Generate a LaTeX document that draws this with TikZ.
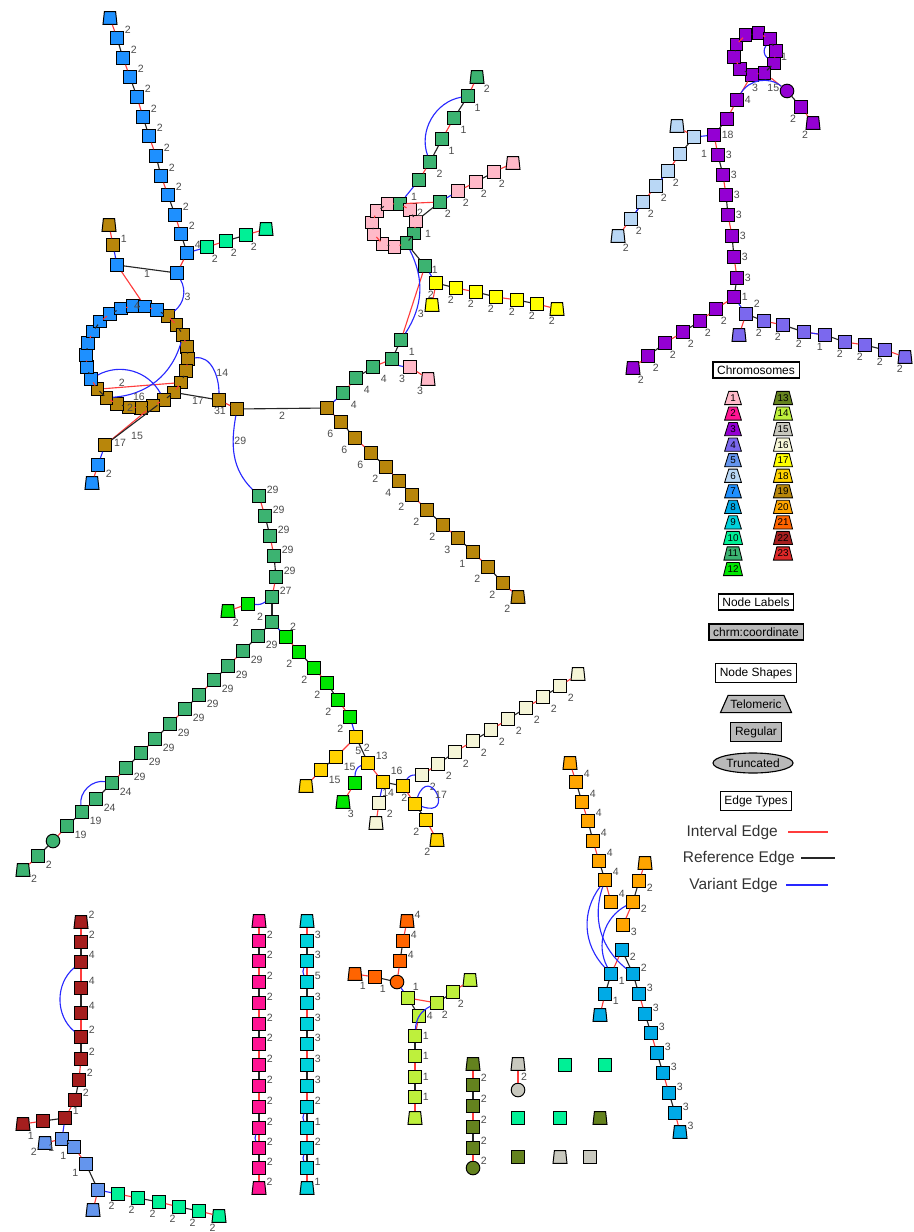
\documentclass[tikz,border=0pt]{standalone}
\usepackage{fontspec}
\setmainfont{Liberation Sans}
\setsansfont{Liberation Sans}
\usetikzlibrary{shapes.geometric, positioning}

% chromosome colours
\definecolor{c1}{RGB}{255,185,200}
\definecolor{c2}{RGB}{255,20,147}
\definecolor{c3}{RGB}{148,0,211}
\definecolor{c4}{RGB}{123,104,238}
\definecolor{c5}{RGB}{100,149,237}
\definecolor{c6}{RGB}{185,215,245}
\definecolor{c7}{RGB}{30,144,255}
\definecolor{c8}{RGB}{0,170,230}
\definecolor{c9}{RGB}{0,210,220}
\definecolor{c10}{RGB}{0,240,150}
\definecolor{c11}{RGB}{60,179,113}
\definecolor{c12}{RGB}{0,230,0}
\definecolor{c13}{RGB}{100,130,30}
\definecolor{c14}{RGB}{190,240,60}
\definecolor{c15}{RGB}{200,200,190}
\definecolor{c16}{RGB}{245,245,215}
\definecolor{c17}{RGB}{255,255,0}
\definecolor{c18}{RGB}{255,210,0}
\definecolor{c19}{RGB}{184,134,11}
\definecolor{c20}{RGB}{255,165,0}
\definecolor{c21}{RGB}{255,100,0}
\definecolor{c22}{RGB}{165,30,30}
\definecolor{c23}{RGB}{220,40,40}
\definecolor{edgered}{RGB}{255,60,60}
\definecolor{edgeblue}{RGB}{40,40,255}

% a chain of segments: name, colour, label angle, x/y/shape/label
\newcommand{\chrchain}[4]{%
  \foreach [count=\i] \px/\py/\sh/\tx in {#4} {
    \node[\sh, fill=#2, label={[lbl]#3:\tx}] (#1-\i) at (\px,\py) {};
    \ifnum\i>1\relax
      \pgfmathtruncatemacro{\j}{\i-1}
      \ifodd\i\relax \draw[refe] (#1-\j) -- (#1-\i); \else \draw[ivl] (#1-\j) -- (#1-\i); \fi
    \fi
  }%
}

\begin{document}
\begin{tikzpicture}[x=0.25mm, y=-0.25mm,
    reg/.style={rectangle, draw=black, line width=0.7pt, minimum size=3.15mm, inner sep=0pt},
    telo/.style={trapezium, trapezium left angle=76, trapezium right angle=76, trapezium stretches=true, draw=black, line width=0.7pt, minimum width=3.5mm, minimum height=3.2mm, inner xsep=2pt, inner ysep=1pt},
    trunc/.style={circle, draw=black, line width=0.7pt, minimum size=3.4mm, inner sep=0pt},
    ivl/.style={draw=edgered, line width=0.8pt},
    refe/.style={draw=black!85, line width=0.8pt},
    var/.style={draw=edgeblue, line width=0.8pt},
    lbl/.style={font=\fontsize{7.5}{8}\selectfont, text=black!70, inner sep=0.5pt},
    legbox/.style={draw=black, line width=0.8pt, font=\fontsize{8.5}{9}\selectfont, inner xsep=3pt, inner ysep=2.6pt},
    legchr/.style={trapezium, trapezium left angle=68, trapezium right angle=68, trapezium stretches=true, draw=black, line width=0.6pt, minimum width=4.2mm, minimum height=3.3mm, inner sep=0.5pt, font=\fontsize{7}{7}\selectfont},
    legtxt/.style={font=\fontsize{11}{12}\selectfont, text=black!80, inner sep=0pt}
]
\useasboundingbox (0,0) rectangle (914,1232);

% ---- big component: chromosomes 7, 19, 11, 1, 17, 12, 18, 16 ----
\chrchain{sevA}{c7}{25}{110/18/telo/, 117/38/reg/2, 123/58/reg/2, 130/77/reg/2, 137/97/reg/2, 143/117/reg/2, 149/136/reg/2, 156/156/reg/2, 161/176/reg/2, 168/195/reg/2, 175/215/reg/2, 181/234/reg/2, 187/253/reg/4, 177/273/reg/}
\chrchain{tenA}{c10}{-60}{207/247/reg/2, 226/241/reg/2, 246/235/reg/2, 266/229/telo/}
\draw[var] (sevA-13) -- (tenA-1);
\chrchain{nineteenA}{c19}{10}{109/225/telo/, 113/245/reg/1}
\chrchain{sevB}{c7}{0}{117/265/reg/}
\draw[var] (nineteenA-2) -- (sevB-1);
\draw[refe] (sevB-1) -- node[lbl, below]{1} (sevA-14);

% ring of 7 and 19
\foreach \k in {0,...,25} {
  \pgfmathsetmacro{\ra}{53-13.846*\k}
  \ifnum\k<15\relax \def\rc{c19}\else \def\rc{c7}\fi
  \node[reg, fill=\rc] (ring-\k) at ({137+51*cos(\ra)},{357-51*sin(\ra)}) {};
}
\foreach \k in {0,...,25} {
  \pgfmathtruncatemacro{\kn}{mod(\k+1,26)}
  \ifodd\k\relax \draw[refe] (ring-\k) -- (ring-\kn); \else \draw[ivl] (ring-\k) -- (ring-\kn); \fi
}
\node[lbl] at (137,306) {4};
\draw[ivl] (sevB-1) -- (ring-24);
\draw[var] (sevA-14) to[bend left=40] node[lbl, right]{3} (ring-0);
\draw[ivl] (ring-14) -- node[lbl, pos=0.25, above]{2} (ring-6);
\draw[var] (ring-15) to[bend left=45] (ring-8);
\draw[var] (ring-2) to[bend left=35] (ring-13);
\node[lbl] at (139,397) {16};
\node[lbl] at (130,408) {2};

\node[reg, fill=c19] (hubA) at (219,400) {};
\node[reg, fill=c19] (hubB) at (237,409) {};
\node[reg, fill=c19] (hubC) at (327,408) {};
\draw[var] (ring-4) to[out=10, in=90] node[lbl, right, pos=0.6]{14} (hubA);
\draw[refe] (ring-7) -- node[lbl, below, pos=0.55]{17} (hubA);
\draw[ivl] (hubA) -- node[lbl, below left=1pt]{31} (hubB);
\draw[refe] (hubB) -- node[lbl, below=2pt]{2} (hubC);

\node[reg, fill=c19] (nineteenB) at (105,445) {};
\draw[ivl] (ring-9) -- (nineteenB);
\draw[refe] (ring-8) -- (nineteenB);
\node[lbl] at (120,443) {17};
\node[lbl] at (137,436) {15};
\chrchain{sevC}{c7}{-30}{98/465/reg/2, 92/483/telo/}
\draw[var] (nineteenB) -- (sevC-1);

% chromosome 19 arm to the lower right
\chrchain{nineteenC}{c19}{-135}{518/597/telo/2, 503/583/reg/2, 488/567/reg/2, 473/552/reg/1, 458/538/reg/3, 443/525/reg/2, 427/510/reg/2, 412/495/reg/2, 399/481/reg/4, 386/467/reg/2, 371/453/reg/6, 355/438/reg/6, 341/422/reg/6}
\draw[ivl] (hubC) -- (nineteenC-13);

% chromosome 11 and 1 up to the pink ring
\chrchain{elevenA}{c11}{-45}{343/393/reg/4, 356/378/reg/4, 373/367/reg/4, 392/359/reg/, 401/340/reg/1}
\draw[var] (hubC) -- (elevenA-1);
\chrchain{oneA}{c1}{-120}{428/379/telo/3, 410/367/reg/3}
\draw[var] (elevenA-4) to[bend right=20] (oneA-2);
\node[reg, fill=c11] (elevenB) at (425,266) {};
\draw[ivl] (elevenA-5) -- (elevenB);

\foreach \k/\rc in {0/c11, 1/c1, 2/c1, 3/c11, 4/c11, 5/c1, 6/c1, 7/c1, 8/c1, 9/c1, 10/c1} {
  \pgfmathsetmacro{\ra}{75-32.73*\k}
  \node[reg, fill=\rc] (pring-\k) at ({394+22*cos(\ra)},{225-22*sin(\ra)}) {};
}
\foreach \k in {0,...,10} {
  \pgfmathtruncatemacro{\kn}{mod(\k+1,11)}
  \ifodd\k\relax \draw[refe] (pring-\k) -- (pring-\kn); \else \draw[ivl] (pring-\k) -- (pring-\kn); \fi
}
\node[lbl] at (414,197) {1};
\node[lbl] at (420,213) {2};
\node[lbl] at (428,234) {1};
\draw[var] (elevenA-5) to[bend right=30] (pring-4);
\draw[refe] (elevenB) -- (pring-4);

\chrchain{elevenC}{c11}{-50}{477/77/telo/2, 468/96/reg/1, 454/118/reg/1, 442/139/reg/1, 430/162/reg/2, 419/180/reg/}
\draw[var] (elevenC-6) -- (pring-0);
\draw[var] (elevenC-5) to[bend left=50] (elevenC-2);
\chrchain{elevenD}{c11}{-60}{440/202/reg/2}
\draw[ivl] (pring-0) -- (elevenD-1);
\draw[refe] (elevenD-1) -- (pring-2);
\chrchain{oneB}{c1}{-60}{513/163/telo/, 494/172/reg/2, 476/182/reg/2, 458/191/reg/2}
\draw[var] (elevenD-1) -- (oneB-4);

% chromosome 17
\chrchain{seventeenA}{c17}{-100}{557/309/telo/2, 537/304/reg/2, 517/300/reg/2, 496/297/reg/2, 476/292/reg/2, 456/288/reg/2, 436/283/reg/2}
\draw[var] (elevenB) -- node[lbl, above right=0pt]{1} (seventeenA-7);
\chrchain{seventeenB}{c17}{-150}{432/305/telo/3}
\draw[ivl] (seventeenA-7) -- (seventeenB-1);

% chromosome 11 down to 12 and 18
\chrchain{elevenE}{c11}{10}{259/496/reg/29, 265/516/reg/29, 270/536/reg/29, 274/556/reg/29, 276/577/reg/29, 272/597/reg/27, 272/622/reg/}
\node[lbl] at (260,617) {2};
\draw[var] (hubB) to[out=-100, in=135] node[lbl, right, pos=0.3]{29} (elevenE-1);
\chrchain{twelveA}{c12}{-60}{228/611/telo/2, 248/604/reg/}
\draw[var] (elevenE-6) to[bend left=20] (twelveA-2);
\chrchain{twelveB}{c12}{-130}{286/637/reg/, 299/652/reg/2, 314/668/reg/2, 327/683/reg/2, 338/700/reg/2, 350/717/reg/2}
\node[lbl] at (293,627) {2};
\draw[var] (elevenE-7) -- (twelveB-1);
\chrchain{elevenF}{c11}{-30}{23/870/telo/2, 38/856/reg/2, 53/841/trunc/, 67/826/reg/19, 82/812/reg/19, 96/799/reg/24, 112/783/reg/24, 126/768/reg/29, 141/753/reg/29, 155/739/reg/29, 170/724/reg/29, 185/709/reg/29, 199/695/reg/29, 214/680/reg/29, 228/666/reg/29, 243/651/reg/29, 258/636/reg/29}
\draw[refe] (elevenF-17) -- (elevenE-7);
\draw[var] (elevenF-5) to[bend left=55] (elevenF-7);

\chrchain{eighteenA}{c18}{-40}{306/786/telo/, 321/770/reg/15, 336/757/reg/15, 356/737/reg/2}
\draw[var] (twelveB-6) -- (eighteenA-4);
\node[reg, fill=c18, label={[lbl]20:13}] (eighteenB) at (368,763) {};
\draw[refe] (eighteenA-4) -- node[lbl, left, pos=0.6]{5} (eighteenB);
\chrchain{twelveC}{c12}{-60}{343/802/telo/3, 355/783/reg/}
\draw[var] (eighteenB) to[out=200, in=90] (twelveC-2);
\node[reg, fill=c18, label={[lbl]45:16}] (eighteenC) at (383,782) {};
\draw[ivl] (eighteenB) -- (eighteenC);
\chrchain{sixteenA}{c16}{-40}{376/823/telo/, 379/803/reg/2}
\draw[var] (eighteenC) -- node[lbl, right]{14} (sixteenA-2);
\node[reg, fill=c18] (eighteenD) at (403,786) {};
\draw[refe] (eighteenC) -- (eighteenD);
\chrchain{sixteenB}{c16}{-45}{578/674/telo/, 560/686/reg/2, 543/697/reg/2, 526/708/reg/2, 508/719/reg/2, 491/730/reg/2, 473/741/reg/2, 455/752/reg/2, 438/764/reg/2, 422/775/reg/2}
\draw[var] (eighteenD) to[bend left=30] (sixteenB-10);
\node[reg, fill=c18, label={[lbl]170:2}] (eighteenE) at (415,804) {};
\draw[ivl] (eighteenD) -- (eighteenE);
\draw[var] (eighteenE) to[out=70, in=-20, looseness=9] (eighteenE);
\node[lbl] at (441,795) {17};
\chrchain{eighteenF}{c18}{-130}{437/840/telo/2, 426/820/reg/2}
\draw[refe] (eighteenE) -- (eighteenF-2);

% ---- chromosome 3, 6, 4 ----
\foreach \k in {0,...,9} {
  \pgfmathsetmacro{\ra}{153-36*\k}
  \node[reg, fill=c3] (threeR-\k) at ({755+21*cos(\ra)},{54-21*sin(\ra)}) {};
}
\foreach \k in {0,...,9} {
  \pgfmathtruncatemacro{\kn}{mod(\k+1,10)}
  \ifodd\k\relax \draw[refe] (threeR-\k) -- (threeR-\kn); \else \draw[ivl] (threeR-\k) -- (threeR-\kn); \fi
}
\node[lbl] at (784,57) {1};
\draw[var] (threeR-3) to[bend right=40] (threeR-5);
\chrchain{threeA}{c3}{0}{737/100/reg/4, 727/119/reg/, 714/135/reg/18, 718/155/reg/3, 723/175/reg/3, 726/195/reg/3, 728/215/reg/3, 732/236/reg/3, 734/257/reg/3, 737/278/reg/3, 734/297/reg/1}
\draw[ivl] (threeR-7) -- (threeA-1);
\chrchain{threeB}{c3}{-120}{813/123/telo/2, 801/107/reg/2, 787/91/trunc/}
\draw[ivl] (threeR-6) -- (threeB-3);
\draw[var] (threeA-1) to[bend left=50] node[lbl, below=1pt, pos=0.4]{3} node[lbl, below=1pt, pos=0.8]{15} (threeB-3);
\chrchain{sixA}{c6}{-60}{677/126/telo/, 694/137/reg/}
\draw[var] (sixA-2) -- (threeA-3);
\node[lbl] at (704,154) {1};
\chrchain{sixB}{c6}{-60}{618/236/telo/2, 631/219/reg/2, 643/202/reg/2, 656/186/reg/2, 668/171/reg/2, 680/154/reg/}
\draw[refe] (sixB-6) -- (sixA-2);
\draw[var] (sixB-2) -- (sixB-3);
\draw[var] (sixB-4) -- (sixB-5);
\chrchain{threeC}{c3}{-60}{633/368/telo/2, 648/356/reg/2, 665/343/reg/2, 683/332/reg/2, 700/321/reg/2, 716/309/reg/2}
\draw[ivl] (threeC-6) -- (threeA-11);
\chrchain{fourA}{c4}{40}{739/335/telo/, 746/314/reg/2}
\draw[var] (threeA-11) -- (fourA-2);
\chrchain{fourB}{c4}{-100}{905/357/telo/2, 885/350/reg/2, 865/345/reg/2, 845/342/reg/2, 825/335/reg/1, 804/332/reg/2, 783/325/reg/2, 764/321/reg/2}
\draw[refe] (fourB-8) -- (fourA-2);
\draw[var] (fourB-5) -- (fourB-6);

% ---- chromosome 20 and 8 ----
\chrchain{twentyA}{c20}{25}{570/763/telo/, 576/782/reg/4, 582/802/reg/4, 588/821/reg/4, 593/841/reg/4, 599/861/reg/4, 605/880/reg/4, 611/902/reg/4}
\chrchain{twentyB}{c20}{-20}{645/863/telo/, 639/881/reg/2, 633/902/reg/2, 623/925/reg/3}
\chrchain{eightA}{c8}{-20}{600/1015/telo/, 605/994/reg/1, 611/974/reg/1, 622/950/reg/2}
\chrchain{eightB}{c8}{15}{680/1132/telo/3, 675/1113/reg/3, 669/1093/reg/3, 663/1073/reg/3, 657/1053/reg/3, 651/1033/reg/3, 645/1014/reg/3, 639/994/reg/3, 633/974/reg/2}
\draw[refe] (eightA-4) -- (eightB-9);
\draw[var] (twentyA-7) to[bend right=40] (eightA-3);
\draw[var] (twentyA-7) to[bend right=35] (eightB-9);
\draw[var] (twentyB-3) to[bend right=45] (eightA-3);

% ---- bottom row: chromosomes 22, 5, 10 ----
\chrchain{twentytwoA}{c22}{20}{81/922/telo/2, 81/942/reg/2, 81/962/reg/4, 81/988/reg/4, 81/1013/reg/4, 81/1037/reg/2, 81/1059/reg/2, 79/1080/reg/2, 75/1100/reg/2, 65/1118/reg/1}
\draw[var] (twentytwoA-3) to[bend right=50] (twentytwoA-6);
\chrchain{twentytwoB}{c22}{-60}{23/1124/telo/1, 43/1121/reg/}
\draw[refe] (twentytwoB-2) -- (twentytwoA-10);
\chrchain{fiveA}{c5}{-150}{45/1143/telo/2, 62/1139/reg/1, 74/1147/reg/1, 86/1164/reg/1, 98/1190/reg/}
\draw[var] (twentytwoA-10) -- (fiveA-2);
\node[telo, fill=c5] (fiveB) at (93,1210) {};
\draw[ivl] (fiveA-5) -- (fiveB);
\chrchain{tenB}{c10}{-110}{219/1216/telo/2, 199/1211/reg/2, 179/1207/reg/2, 159/1202/reg/2, 138/1198/reg/2, 118/1194/reg/2}
\draw[var] (fiveA-5) -- (tenB-6);

% chromosome 2 and 9 columns
\chrchain{twoA}{c2}{15}{259/921/telo/, 259/941/reg/2, 259/961/reg/2, 259/982/reg/2, 259/1003/reg/2, 259/1024/reg/2, 259/1044/reg/2, 259/1065/reg/2, 259/1086/reg/2, 259/1107/reg/2, 259/1128/reg/2, 259/1148/reg/2, 259/1168/reg/2, 259/1188/telo/2}
\draw[var] (twoA-11) to[bend right=25] (twoA-12);
\chrchain{nineA}{c9}{15}{307/921/telo/, 307/941/reg/3, 307/961/reg/3, 307/982/reg/5, 307/1003/reg/3, 307/1024/reg/3, 307/1044/reg/3, 307/1065/reg/3, 307/1086/reg/3, 307/1107/reg/2, 307/1128/reg/1, 307/1148/reg/2, 307/1168/reg/1, 307/1188/telo/1}
\draw[var] (nineA-3) to[bend right=25] (nineA-4);
\draw[var] (nineA-10) to[bend right=25] (nineA-11);
\draw[var] (nineA-12) to[bend right=25] (nineA-13);

% chromosome 21 and 14
\chrchain{twentyoneA}{c21}{10}{407/921/telo/4, 403/941/reg/4, 400/961/reg/4, 397/982/trunc/}
\chrchain{twentyoneB}{c21}{-60}{355/974/telo/1, 375/977/reg/1}
\draw[refe] (twentyoneB-2) -- (twentyoneA-4);
\chrchain{fourteenA}{c14}{-60}{470/980/telo/, 453/992/reg/2, 437/1003/reg/2}
\node[reg, fill=c14, label={[lbl]60:1}] (fourteenB) at (408,998) {};
\draw[var] (twentyoneA-4) -- (fourteenB);
\draw[ivl] (fourteenB) -- (fourteenA-3);
\chrchain{fourteenC}{c14}{0}{419/1016/reg/4, 415/1036/reg/1, 415/1056/reg/1, 415/1077/reg/1, 415/1097/reg/1, 415/1118/telo/}
\draw[refe] (fourteenB) -- (fourteenC-1);
\draw[var] (fourteenA-3) to[bend right=30] (fourteenC-2);

% chromosome 13 and the loose segments
\chrchain{thirteenA}{c13}{20}{473/1064/telo/, 473/1085/reg/2, 473/1106/reg/2, 473/1127/reg/2, 473/1148/reg/2, 473/1168/trunc/2}
\chrchain{fifteenA}{c15}{-30}{518/1064/telo/, 518/1090/trunc/}
\node[lbl] at (524,1077) {2};
\node[reg, fill=c10] (tenC) at (565,1065) {};
\node[reg, fill=c10] (tenD) at (605,1065) {};
\node[reg, fill=c10] (tenE) at (518,1118) {};
\node[reg, fill=c10] (tenF) at (560,1118) {};
\node[telo, fill=c13] (thirteenB) at (600,1118) {};
\node[reg, fill=c13] (thirteenC) at (518,1157) {};
\node[telo, fill=c15] (fifteenB) at (560,1157) {};
\node[reg, fill=c15] (fifteenC) at (590,1157) {};

% ---- legend ----
\node[legbox] (chrTitle) at (756,370) {Chromosomes};
\foreach \n in {1,...,12}
  \node[legchr, fill=c\n] (key\n) at (733,{398+15.55*(\n-1)}) {\n};
\foreach \n in {13,...,23}
  \node[legchr, fill=c\n] (key\n) at (783,{398+15.55*(\n-13)}) {\n};
\node[legbox] (labTitle) at (756,602) {Node Labels};
\node[legbox, fill=gray!55] (labKey) at (756,632) {chrm:coordinate};
\node[legbox] (shpTitle) at (756,673) {Node Shapes};
\node[trapezium, trapezium left angle=55, trapezium right angle=55, trapezium stretches=true, draw=black, line width=0.8pt, fill=gray!55, minimum width=17.8mm, minimum height=4.3mm, inner sep=0.5pt, font=\fontsize{8.5}{9}\selectfont] (teloKey) at (756,704) {Telomeric};
\node[legbox, fill=gray!55] (regKey) at (756,732) {Regular};
\node[ellipse, draw=black, line width=0.8pt, fill=gray!55, minimum width=20mm, minimum height=5mm, inner sep=0pt, font=\fontsize{8.5}{9}\selectfont] (truncKey) at (753,763) {Truncated};
\node[legbox] (edgeTitle) at (756,801) {Edge Types};
\node[legtxt, anchor=east] (ivlKey) at (778,832) {Interval Edge};
\node[legtxt, anchor=east] (refKey) at (795,858) {Reference Edge};
\node[legtxt, anchor=east] (varKey) at (778,885) {Variant Edge};
\coordinate (ivlEnd) at (828,832);
\coordinate (refEnd) at (835,858);
\coordinate (varEnd) at (828,885);
\draw[ivl] ([xshift=2.5mm]ivlKey.east) -- (ivlEnd);
\draw[refe] ([xshift=1.5mm]refKey.east) -- (refEnd);
\draw[var] ([xshift=2mm]varKey.east) -- (varEnd);

\end{tikzpicture}
\end{document}
